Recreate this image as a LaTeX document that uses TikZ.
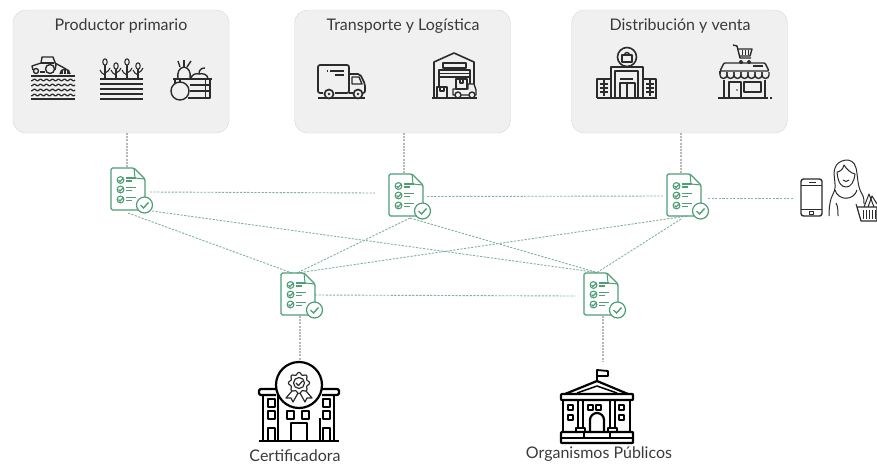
\documentclass[tikz,border=0pt]{standalone}
\usepackage{fontspec}
\setmainfont{Lato}
\usepackage{tikz}
\definecolor{docgreen}{HTML}{4F9E76}
\definecolor{linkgreen}{HTML}{7FB39A}
\definecolor{linkgray}{HTML}{B8B8B8}
\definecolor{boxfill}{HTML}{F0F0F0}
\definecolor{boxline}{HTML}{D6D6D6}
\definecolor{inkgray}{HTML}{2B2B2B}
\definecolor{textgray}{HTML}{3A3A3A}
\tikzset{
  stagebox/.style={draw=boxline, fill=boxfill, rounded corners=13pt, minimum width=216pt, minimum height=123pt, inner sep=0pt},
  stagetitle/.style={font=\fontsize{16}{18}\selectfont, text=textgray, inner sep=0pt},
  doclabel/.style={font=\fontsize{16}{18}\selectfont, text=textgray, inner sep=0pt},
  docnode/.style={minimum width=34pt, minimum height=42pt, inner sep=0pt},
  greenlink/.style={linkgreen, line width=0.9pt, dash pattern=on 2.2pt off 1.4pt},
  graylink/.style={linkgray, line width=1.3pt, dash pattern=on 2pt off 1.2pt},
  icon/.style={inkgray, line width=1.4pt, line join=round},
  bigicon/.style={black, line width=2.2pt, line join=round},
  doc/.pic={
    \draw[docgreen, line width=1.3pt, rounded corners=1.5pt] (-17,-21) -- (6,-21) -- (17,-10) -- (17,21) -- (-17,21) -- cycle;
    \draw[docgreen, line width=1pt] (6,-21) -- (7,-11) -- (17,-10);
    \foreach \rowy in {-9,0.5,10.5} {
      \draw[docgreen, line width=1.1pt] (-7.5,\rowy) circle (3.4);
      \draw[docgreen, line width=1.1pt] (-9.5,\rowy) -- (-8,{\rowy+1.5}) -- (-4.5,{\rowy-2});
      \draw[docgreen, line width=1.3pt] (-2,{\rowy-2}) -- (8,{\rowy-2});
      \draw[docgreen, line width=1.3pt] (-2,{\rowy+1}) -- (4,{\rowy+1});
    }
    \filldraw[draw=docgreen, fill=white, line width=1.2pt] (16.5,16) circle (8);
    \draw[docgreen, line width=1.4pt] (12.5,16) -- (15.5,19) -- (20.5,13.5);
  }
}
\begin{document}
\begin{tikzpicture}[x=1pt,y=-1pt]
  \useasboundingbox (0,0) rectangle (877,464);

  \node[stagebox] (prod) at (121,71.5) {};
  \node[stagebox] (trans) at (402.5,71.5) {};
  \node[stagebox] (dist) at (679.5,71.5) {};
  \node[stagetitle] (prodtitle) at (121,26) {Productor primario};
  \node[stagetitle] (transtitle) at (403,26) {Transporte y Logística};
  \node[stagetitle] (disttitle) at (680,26) {Distribución y venta};

  \node[docnode] (doca) at (128,189) {};
  \node[docnode] (docb) at (406,195) {};
  \node[docnode] (docc) at (684,195) {};
  \node[docnode] (docd) at (298,294) {};
  \node[docnode] (doce) at (601,294) {};

  \coordinate (prodout) at (127,133);
  \coordinate (transout) at (404,133);
  \coordinate (distout) at (681,133);
  \coordinate (docain) at (127,167);
  \coordinate (docbin) at (404,174);
  \coordinate (doccin) at (681,174);
  \coordinate (docdout) at (300,316);
  \coordinate (doceout) at (603,316);
  \coordinate (certin) at (300,361);
  \coordinate (orgin) at (603,361);
  \coordinate (phonein) at (794,198);
  \coordinate (docaright) at (150,192);
  \coordinate (docbleft) at (375,193);
  \coordinate (docbright) at (427,196.5);
  \coordinate (doccleft) at (664,196);
  \coordinate (doccright) at (708,198);
  \coordinate (docacheck) at (152,211);
  \coordinate (docabot) at (128,213);
  \coordinate (docbbot) at (410,218);
  \coordinate (doccbot) at (687,216);
  \coordinate (doccbotb) at (681,219);
  \coordinate (docdtopa) at (292,273);
  \coordinate (docdtopb) at (297,273);
  \coordinate (docetop) at (597,272.5);
  \coordinate (docdright) at (315,295);
  \coordinate (doceleft) at (575,296);

  \draw[graylink] (prodout) -- (docain);
  \draw[graylink] (transout) -- (docbin);
  \draw[graylink] (distout) -- (doccin);
  \draw[graylink] (docdout) -- (certin);
  \draw[graylink] (doceout) -- (orgin);

  \draw[greenlink] (docaright) -- (docbleft);
  \draw[greenlink] (docbright) -- (doccleft);
  \draw[greenlink] (doccright) -- (phonein);
  \draw[greenlink] (docacheck) -- (docetop);
  \draw[greenlink] (docabot) -- (docdtopa);
  \draw[greenlink] (docbbot) -- (docdtopb);
  \draw[greenlink] (docbbot) -- (docetop);
  \draw[greenlink] (doccbot) -- (docdtopb);
  \draw[greenlink] (doccbotb) -- (docetop);
  \draw[greenlink] (docdright) -- (doceleft);

  \pic at (doca) {doc};
  \pic at (docb) {doc};
  \pic at (docc) {doc};
  \pic at (docd) {doc};
  \pic at (doce) {doc};

  % tractor and field
  \draw[icon] (31,76) -- (75,76);
  \draw[icon] (31,99) -- (75,99);
  \foreach \rowy in {80,85,90,95}
    \draw[icon, line width=1.2pt] plot[domain=31:75, samples=45] (\x,{\rowy+0.9*sin(\x*60)});
  \draw[icon] (33,70) -- (32,66) -- (41,63) -- (42,57) -- (53,57) -- (56,65) -- (55,70);
  \draw[icon] (41,63) -- (54,63);
  \draw[icon] (40,72) -- (45,72);
  \filldraw[icon, fill=boxfill] (50,69) circle (4.5);
  \filldraw[icon, fill=boxfill] (36,71) circle (2.5);
  \draw[icon] (55,63) -- (66,69);
  \draw[icon] (60,74) arc (180:360:5);
  \foreach \tinex in {62,65,68}
    \draw[icon] (\tinex,70) -- (\tinex,74);

  % crop rows
  \foreach \rowy in {79,84,89,94,99}
    \draw[icon] (100,\rowy) -- (143,\rowy);
  \foreach \stemx/\stemy in {105/62,116/66,127/62,138/66} {
    \draw[icon, line width=1.1pt] (\stemx,79) -- (\stemx,{\stemy+3});
    \draw[icon, line width=1.1pt] (\stemx,\stemy) ellipse (2.2 and 3.2);
    \draw[icon, line width=1.1pt] (\stemx,75) .. controls ({\stemx-2},73) and ({\stemx-5},73) .. ({\stemx-5},70);
    \draw[icon, line width=1.1pt] (\stemx,73) .. controls ({\stemx+2},71) and ({\stemx+5},71) .. ({\stemx+5},68);
  }

  % fruit crate
  \draw[icon] (178,79) .. controls (177,72) and (179,68) .. (184,67) .. controls (189,68) and (191,72) .. (190,79);
  \draw[icon] (180,67) -- (178,61);
  \draw[icon] (184,67) -- (184,60);
  \draw[icon] (187,67) -- (191,61);
  \draw[icon] (191,79) .. controls (191,74) and (197,73) .. (199,74) .. controls (202,73) and (208,74) .. (208,79);
  \draw[icon] (199,74) .. controls (199,70) and (201,68) .. (205,68);
  \draw[icon] (173,79) -- (212,79);
  \draw[icon] (175,79) -- (175,84);
  \draw[icon] (210,79) -- (210,98) -- (188,98);
  \draw[icon] (190,85) -- (210,85);
  \draw[icon] (190,91) -- (210,91);
  \draw[icon, line width=1pt] (205,80) -- (205,98);
  \filldraw[icon, fill=boxfill] (180,91) circle (9);
  \draw[icon] (180,82) -- (180,78);

  % truck
  \draw[icon, line width=1.7pt, rounded corners=2pt] (323,93) -- (318,93) -- (318,65) -- (349,65) -- (349,93) -- (335,93);
  \draw[icon, line width=1.7pt, rounded corners=2pt] (349,74) -- (360,74) -- (365,84) -- (365,93) -- (363,93);
  \draw[icon] (352,77) -- (359,77) -- (362,84) -- (352,84) -- cycle;
  \draw[icon] (349,93) -- (353,93);
  \draw[icon] (330,71) -- (344,71);
  \draw[icon] (335,75) -- (344,75);
  \draw[icon] (327,71) -- (328,71);
  \draw[icon, line width=1.7pt] (318,98) -- (365,98);
  \filldraw[icon, line width=1.7pt, fill=boxfill] (329,94) circle (4.5);
  \filldraw[icon, line width=1.7pt, fill=boxfill] (358,94) circle (4.5);
  \fill[inkgray] (329,94) circle (1.4);
  \fill[inkgray] (358,94) circle (1.4);

  % warehouse
  \draw[icon, line width=1.6pt] (434,98) -- (434,62) -- (454,53) -- (474,62) -- (474,84);
  \draw[icon] (443,63) rectangle (466,68);
  \draw[icon] (439,70) rectangle (470,77);
  \draw[icon] (439,73.5) -- (470,73.5);
  \draw[icon] (439,77) -- (439,87);
  \draw[icon] (470,77) -- (470,84);
  \draw[icon, line width=1.6pt] (432,98) -- (477,98);
  \draw[icon] (437,87) rectangle (447,98);
  \draw[icon] (440,87) -- (440,91) -- (444,91) -- (444,87);
  \draw[icon] (456,79) rectangle (467,89);
  \draw[icon] (460,79) -- (460,83) -- (463,83) -- (463,79);
  \draw[icon] (453,89) -- (468,89) -- (468,84) -- (474,84) -- (476,90) -- (476,95) -- (453,95) -- cycle;
  \filldraw[icon, fill=boxfill] (458,95) circle (3);
  \filldraw[icon, fill=boxfill] (472,95) circle (3);

  % shopping centre
  \draw[icon, line width=1.6pt] (627,57) circle (9.5);
  \draw[icon] (622,55) rectangle (632,62);
  \draw[icon] (624.5,55) arc (180:360:2.5);
  \draw[icon] (627,66.5) -- (627,68);
  \draw[icon, line width=1.6pt] (611,98) -- (611,67) -- (643,67) -- (643,98);
  \draw[icon] (615,98) -- (615,71) -- (638,71) -- (638,98);
  \draw[icon] (620,98) -- (620,83) -- (635,83) -- (635,98);
  \draw[icon] (620,79) -- (633,79);
  \draw[icon] (627,83) -- (627,98);
  \draw[icon, line width=1.6pt] (611,79) -- (597,79) -- (597,98);
  \draw[icon, line width=1.6pt] (643,79) -- (656,79) -- (656,98);
  \foreach \rowy in {84,88,92} {
    \draw[icon, line width=1.1pt] (600,\rowy) -- (608,\rowy);
    \draw[icon, line width=1.1pt] (646,\rowy) -- (654,\rowy);
  }
  \draw[icon, line width=1.1pt] (604,80) -- (604,96);
  \draw[icon, line width=1.1pt] (650,80) -- (650,96);
  \draw[icon, line width=1.7pt] (597,98) -- (657,98);

  % shop with cart
  \draw[icon] (733,45) -- (737,46) -- (740,58) -- (751,58);
  \draw[icon] (738,49) -- (752,49) -- (750,56) -- (740,56);
  \foreach \barx in {742,745,748}
    \draw[icon, line width=1pt] (\barx,50) -- (\barx,55);
  \draw[icon] (741,62) circle (1.5);
  \draw[icon] (749,62) circle (1.5);
  \draw[icon, rounded corners=1pt] (720,71) -- (724,63) -- (765,63) -- (769,71) -- cycle;
  \draw[icon] (753,66) -- (763,66);
  \draw[icon] (720,71) -- (720,74);
  \foreach \scalx in {720,727,734,741,748,755,762}
    \draw[icon] (\scalx,72) -- (\scalx,75) arc (180:0:3.5) -- ({\scalx+7},72);
  \draw[icon] (724,80) -- (724,98);
  \draw[icon] (765,80) -- (765,98);
  \draw[icon] (729,98) -- (729,82) -- (741,82) -- (741,98);
  \draw[icon] (744,82) rectangle (761,92);
  \fill[inkgray] (737,90) circle (0.9);
  \draw[icon, line width=1.6pt] (718,98) -- (768,98);
  \draw[icon, line width=1.6pt] (770,98) -- (772,98);

  % phone
  \draw[icon, rounded corners=2.5pt] (801,179) rectangle (822,216);
  \draw[icon, line width=1pt] (801,185) -- (822,185);
  \draw[icon, line width=1pt] (801,209) -- (822,209);
  \draw[icon, line width=1pt] (809,182) -- (816,182);
  \draw[icon, line width=1pt] (809,211) rectangle (813,214);

  % customer with basket
  \draw[icon, line width=1pt] (833,194) .. controls (838,186) and (832,176) .. (835,168) .. controls (837,160) and (853,155) .. (856,168) .. controls (858,176) and (857,186) .. (862,194);
  \draw[icon, line width=1pt] (837,172) .. controls (838,184) and (842,187) .. (846,187) .. controls (851,187) and (854,182) .. (855,174) .. controls (851,173) and (847,170) .. (844,165) .. controls (843,170) and (839,172) .. (837,172);
  \draw[icon, line width=1pt] (843,180) .. controls (845,182) and (847,182) .. (849,180);
  \draw[icon, line width=1pt] (835,190) .. controls (838,201) and (854,201) .. (857,190);
  \draw[icon, line width=1pt] (833,194) .. controls (830,199) and (829,208) .. (829,216);
  \draw[icon, line width=1pt] (836,203) .. controls (838,206) and (838,212) .. (838,216);
  \draw[icon, line width=1pt] (862,194) .. controls (864,197) and (864,201) .. (864,204);
  \draw[icon, line width=1pt] (856,204) -- (857,207);
  \draw[icon, line width=1pt] (864,207) -- (869,194) -- (874,207);
  \draw[icon, line width=1pt] (868,207) -- (872,196) -- (877,204);
  \filldraw[icon, line width=1.2pt, fill=white] (857,207) -- (877,207) -- (877,221) -- (861,221) -- cycle;
  \foreach \barx in {863,866,869,872,875}
    \draw[icon, line width=1pt] (\barx,210) -- (\barx,219);

  % certifying body
  \draw[bigicon] (263,395) -- (263,441);
  \draw[bigicon] (334,395) -- (334,441);
  \draw[bigicon] (278,395) -- (278,441);
  \draw[bigicon] (320,418) -- (320,441);
  \draw[bigicon, rounded corners=1.5pt] (276,395) -- (259,395) -- (259,389) -- (276,389);
  \draw[bigicon, rounded corners=1.5pt] (322,395) -- (339,395) -- (339,389) -- (322,389);
  \draw[bigicon] (278,395) -- (320,395);
  \filldraw[bigicon, fill=white] (299,385) circle (23);
  \draw[icon, line width=1.2pt] (299,383) circle (5.5);
  \draw[icon, line width=1.2pt] plot[domain=0:360, samples=49] ({299+(9.5+1.2*cos(8*\x))*cos(\x)},{383+(9.5+1.2*cos(8*\x))*sin(\x)});
  \draw[icon, line width=1.2pt] (296,383) -- (298.5,385.5) -- (302.5,381);
  \draw[icon, line width=1.2pt] (292,391) -- (286,398) -- (291,398) -- (293,402) -- (298,393);
  \draw[icon, line width=1.2pt] (306,391) -- (312,398) -- (307,398) -- (305,402) -- (300,393);
  \foreach \winx/\winy in {268/399,268/411,323/399,323/411,287/411,302/411}
    \draw[bigicon, line width=1.9pt] (\winx,\winy) rectangle ({\winx+7},{\winy+8});
  \draw[bigicon, line width=1.9pt] (268,441) -- (268,428) -- (275,428) -- (275,441);
  \draw[bigicon, line width=1.9pt] (323,441) -- (323,428) -- (330,428) -- (330,441);
  \draw[bigicon] (291,441) -- (291,423) -- (307,423) -- (307,441);
  \draw[bigicon] (259,441) -- (339,441);

  % government building
  \draw[bigicon, line width=1.8pt] (597,381) -- (597,370) -- (608,371) -- (608,376) -- (597,376);
  \draw[bigicon] (565,394) -- (597,381) -- (628,394);
  \draw[bigicon, line width=1.5pt] (577,393) -- (597,386) -- (617,393);
  \draw[bigicon, rounded corners=0.8pt] (561,394) rectangle (633,400);
  \draw[bigicon] (563,400) -- (563,432);
  \draw[bigicon] (630,400) -- (630,432);
  \draw[bigicon, line width=1.7pt] (578,400) -- (578,428);
  \draw[bigicon, line width=1.7pt] (583,400) -- (583,428);
  \draw[bigicon, line width=1.7pt] (610,400) -- (610,428);
  \draw[bigicon, line width=1.7pt] (615,400) -- (615,428);
  \draw[bigicon, line width=1.7pt] (576,432) -- (576,428) -- (585,428) -- (585,432);
  \draw[bigicon, line width=1.7pt] (608,432) -- (608,428) -- (617,428) -- (617,432);
  \foreach \winx/\winy in {568/405,568/415,588/405,596/405,619/405,619/415}
    \draw[bigicon, line width=1.7pt] (\winx,\winy) rectangle ({\winx+5},{\winy+5});
  \draw[bigicon] (590,432) -- (590,420) arc (180:360:7) -- (604,432);
  \draw[bigicon, rounded corners=0.8pt] (561,432) rectangle (633,443);
  \draw[bigicon, line width=1.5pt] (561,438) -- (633,438);
  \draw[bigicon, line width=1.7pt] (584,432) -- (584,438);
  \draw[bigicon, line width=1.7pt] (610,432) -- (610,438);

  \node[doclabel] (cert) at (295,456) {Certificadora};
  \node[doclabel] (org) at (599,454.5) {Organismos Públicos};
\end{tikzpicture}
\end{document}
